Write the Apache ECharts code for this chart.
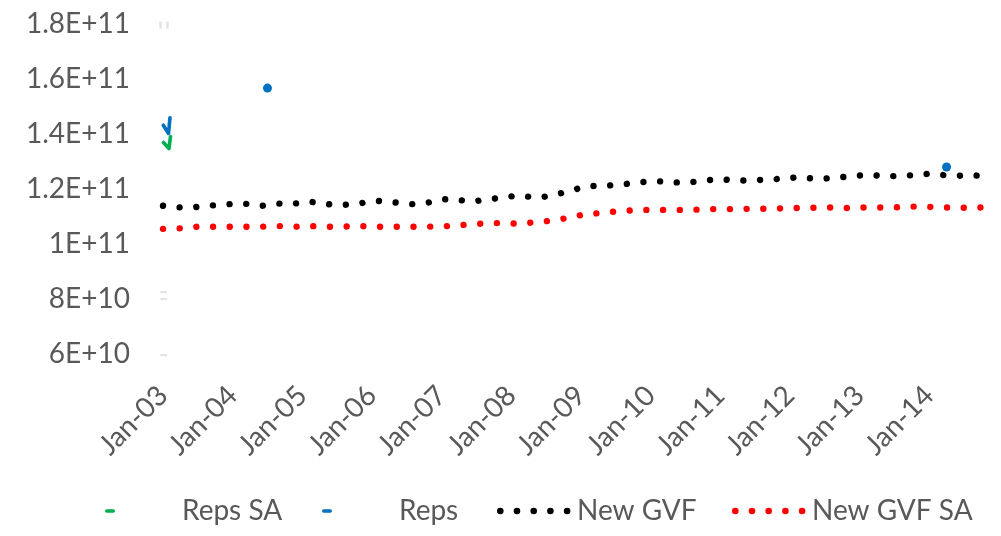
<!DOCTYPE html>
<html>
<head>
<meta charset="utf-8">
<script src="https://cdn.jsdelivr.net/npm/echarts@6/dist/echarts.min.js"></script>
<style>
html,body{margin:0;padding:0;background:#fff;}
#chart{width:1001px;height:536px;}
</style>
</head>
<body>
<div id="chart"></div>
<script>
// ---- Data (values in billions; x = months since Jan-03) ----
const xLabels = ['Jan-03','Jan-04','Jan-05','Jan-06','Jan-07','Jan-08','Jan-09','Jan-10','Jan-11','Jan-12','Jan-13','Jan-14'];
const yLabels = ['6E+10','8E+10','1E+11','1.2E+11','1.4E+11','1.6E+11','1.8E+11'];
const seriesNames = ['Reps SA','Reps','New GVF','New GVF SA'];

// New GVF, monthly Jan-03 .. Dec-14
const newGVF = [
  113.9,113.7,113.4,113.3,113.4,113.3,113.5,113.8,114.0,114.1,114.3,114.4,
  114.6,114.7,114.7,114.4,114.1,113.9,114.1,114.4,114.7,114.6,114.5,114.8,
  115.1,115.4,115.2,114.8,114.5,114.4,114.3,114.2,114.4,114.6,114.8,115.2,
  115.6,115.7,115.5,115.3,115.1,114.9,114.6,114.5,114.6,114.8,115.2,115.8,
  116.2,116.3,116.2,116.0,115.7,115.4,115.6,116.0,116.2,116.5,116.8,117.1,
  117.3,117.4,117.5,117.2,116.9,116.9,117.3,117.8,118.2,118.7,119.1,119.8,
  120.5,121.0,121.1,121.1,121.1,121.3,121.5,121.7,121.9,122.1,122.3,122.6,
  122.8,122.9,122.7,122.5,122.4,122.4,122.4,122.5,122.7,122.9,123.2,123.5,
  123.6,123.4,123.2,123.1,123.1,123.2,123.2,123.3,123.3,123.4,123.7,123.9,
  124.0,124.2,124.3,124.0,123.8,123.7,123.8,124.0,124.1,124.3,124.5,124.7,
  124.9,125.0,125.1,124.9,124.7,124.6,124.7,124.8,124.9,125.0,125.2,125.4,
  125.5,125.5,125.2,124.9,124.8,124.8,124.9,124.9,124.9,124.8,124.8,124.8
];
// New GVF SA, monthly Jan-03 .. Dec-14
const newGVFSA = [
  105.5,105.6,105.7,105.7,105.9,106.1,106.3,106.3,106.3,106.3,106.3,106.3,
  106.3,106.3,106.3,106.3,106.3,106.3,106.4,106.4,106.5,106.4,106.3,106.3,
  106.4,106.5,106.5,106.4,106.3,106.3,106.3,106.3,106.4,106.4,106.5,106.4,
  106.3,106.3,106.3,106.3,106.3,106.3,106.3,106.3,106.3,106.3,106.3,106.4,
  106.4,106.5,106.6,106.8,107.0,107.1,107.3,107.4,107.5,107.6,107.6,107.5,
  107.4,107.5,107.6,107.7,107.9,108.1,108.3,108.5,108.8,109.2,109.6,110.1,
  110.5,110.8,111.0,111.2,111.4,111.6,111.8,112.0,112.1,112.3,112.4,112.4,
  112.4,112.4,112.4,112.4,112.4,112.4,112.4,112.5,112.5,112.6,112.7,112.7,
  112.6,112.6,112.7,112.7,112.7,112.8,112.8,112.8,112.8,112.8,112.9,113.0,
  113.1,113.1,113.1,113.1,113.2,113.2,113.3,113.3,113.2,113.1,113.1,113.2,
  113.3,113.3,113.3,113.3,113.3,113.3,113.3,113.4,113.5,113.6,113.6,113.5,
  113.5,113.4,113.4,113.3,113.3,113.2,113.2,113.2,113.2,113.3,113.3,113.3
];
// Reps SA: visible segment [month, value]
const repsSA = [[0.09,136.9],[1.03,134.7],[1.29,139.1]];
// Reps: segments separated by gaps
const repsSegments = [
  [[0.05,143.2],[0.95,140.2],[1.2,145.9]],
  [[18,156.7]],
  [[135,128.0]]
];
// faint grey marks near the left edge [month, value]
const greyMarks = [[-0.43,179.6],[0.77,179.6],[0.09,82.5],[0.12,80.0],[0.12,59.6]];

// ---- Build ----
const FONT = 'Lato';
const TXT = '#595959';
const COLORS = {'Reps SA':'#00B050','Reps':'#0070C0','New GVF':'#000000','New GVF SA':'#FF0000'};

function repsData(){
  const out = [];
  repsSegments.forEach((seg, si) => {
    if (si > 0) out.push(['-','-']);
    seg.forEach(p => {
      if (seg.length === 1) out.push({value:p, symbol:'circle', symbolSize:9});
      else out.push({value:p});
    });
  });
  return out;
}
const R = 3.3;
const dotsIcon = 'path://M0,0M75,7' + [3.3,20,36.7,53.4,70.1].map(c =>
  'M' + (c-R) + ',3.5a' + R + ',' + R + ' 0 1,0 ' + (2*R) + ',0a' + R + ',' + R + ' 0 1,0 ' + (-2*R) + ',0').join('');
const dashIcon = 'path://M0,0M75,7M4.7,1.8L11.3,1.8A1.7,1.7 0 0,1 11.3,5.2L4.7,5.2A1.7,1.7 0 0,1 4.7,1.8Z';
const legendLeft = [102, 319, 497, 732];
const legendIcons = [dashIcon, dashIcon, dotsIcon, dotsIcon];

const chart = echarts.init(document.getElementById('chart'), null, {renderer:'canvas'});
const option = {
  animation: false,
  backgroundColor: '#ffffff',
  textStyle: {fontFamily: FONT},
  grid: {left:163, right:8, top:24, bottom:182, containLabel:false, outerBoundsMode:'none'},
  legend: seriesNames.map((n, i) => ({
    data: [{name:n, icon: legendIcons[i], itemStyle:{color: COLORS[n], borderWidth:0}}],
    left: legendLeft[i], top: 497, padding: 0,
    itemWidth: 75, itemHeight: 7, selectedMode: false,
    textStyle: {fontFamily: FONT, fontSize: 28, color: TXT}
  })),
  xAxis: {
    type: 'value', min: 0, max: 143, interval: 12,
    axisLine: {show:false}, axisTick: {show:false}, splitLine: {show:false},
    axisLabel: {
      rotate: 45, margin: 37, fontFamily: FONT, fontSize: 28, color: TXT,
      showMaxLabel: false,
      formatter: v => (v % 12 === 0 && xLabels[v/12] !== undefined) ? xLabels[v/12] : ''
    }
  },
  yAxis: {
    type: 'value', min: 60, max: 180, interval: 20,
    axisLine: {show:false}, axisTick: {show:false}, splitLine: {show:false},
    axisLabel: {
      margin: 33, fontFamily: FONT, fontSize: 28, color: TXT,
      formatter: v => yLabels[Math.round((v - 60) / 20)] || ''
    }
  },
  series: [
    {
      name: 'Reps SA', type: 'line', data: repsSA, symbol: 'none', smooth: false,
      lineStyle: {color: COLORS['Reps SA'], width: 3.6, cap: 'round', join: 'round'},
      itemStyle: {color: COLORS['Reps SA']}
    },
    {
      name: 'Reps', type: 'line', data: repsData(), symbol: 'none', showSymbol: true, connectNulls: false,
      lineStyle: {color: COLORS['Reps'], width: 3.6, cap: 'round', join: 'round'},
      itemStyle: {color: COLORS['Reps']}
    },
    {
      name: 'New GVF', type: 'line', data: newGVF.map((v, i) => [i, v]), symbol: 'none',
      lineStyle: {color: COLORS['New GVF'], width: 6.4, type: [0.01, 16.7], cap: 'round'}
    },
    {
      name: 'New GVF SA', type: 'line', data: newGVFSA.map((v, i) => [i, v]), symbol: 'none',
      lineStyle: {color: COLORS['New GVF SA'], width: 6.4, type: [0.01, 16.7], cap: 'round'}
    },
    {
      name: 'marks', type: 'scatter', data: greyMarks, clip: false, silent: true,
      symbol: 'rect',
      symbolSize: (val, p) => p.dataIndex < 2 ? [2.5, 7] : [6.5, 2.2],
      itemStyle: {color: '#dcdcdc'}
    }
  ]
};
chart.setOption(option);
</script>
</body>
</html>
